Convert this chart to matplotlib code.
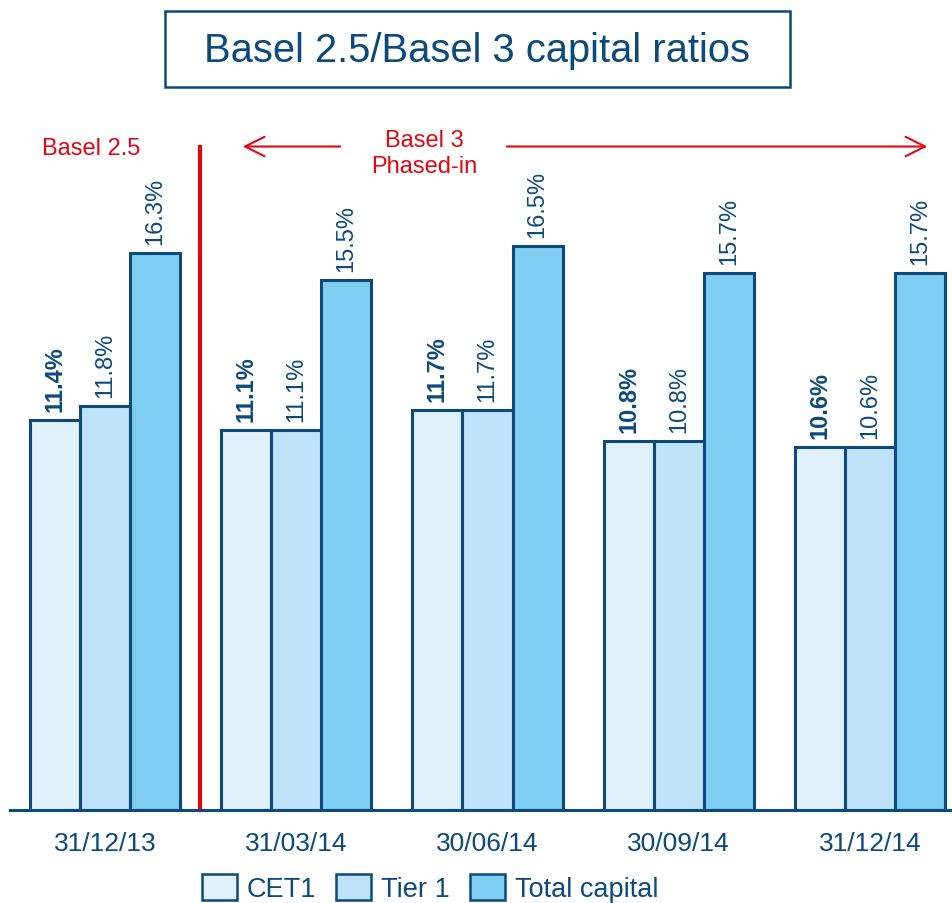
import matplotlib.pyplot as plt
import numpy as np
from matplotlib.patches import Rectangle, Patch

plt.rcParams['font.family'] = ['Liberation Sans', 'DejaVu Sans']

# data
dates = ["31/12/13", "31/03/14", "30/06/14", "30/09/14", "31/12/14"]
cet1 = [11.4, 11.1, 11.7, 10.8, 10.6]
tier1 = [11.8, 11.1, 11.7, 10.8, 10.6]
total = [16.3, 15.5, 16.5, 15.7, 15.7]
series_names = ["CET1", "Tier 1", "Total capital"]

BLUE = "#0B4A7A"
RED = "#E30613"
colors = ["#E1F1FC", "#BEE3F8", "#80CDF2"]

fig = plt.figure(figsize=(9.53, 9.04), dpi=100)
ax = fig.add_axes([10 / 953, 93 / 904, 943 / 953, 684 / 904])

x = np.arange(len(dates))
w = 0.262
for i, (vals, col) in enumerate(zip([cet1, tier1, total], colors)):
    pos = x + (i - 1) * w
    ax.bar(pos, vals, width=w, color=col, edgecolor=BLUE, linewidth=2.2)
    for p, v in zip(pos, vals):
        ax.annotate(f"{v:.1f}%", (p, v), xytext=(0, 6.5), textcoords="offset points",
                    rotation=90, ha="center", va="bottom", fontsize=17, color=BLUE,
                    fontweight="bold" if i == 0 else "normal")

ax.set_xlim(-0.497, 4.434)
ax.set_ylim(0, 20)
for s in ["top", "left", "right"]:
    ax.spines[s].set_visible(False)
ax.spines["bottom"].set_color(BLUE)
ax.spines["bottom"].set_linewidth(2.2)
ax.set_yticks([])
ax.set_xticks(x)
ax.set_xticklabels(dates, fontsize=19, color=BLUE)
ax.tick_params(axis="x", length=0, pad=15)

# Basel 2.5 / Basel 3 separator
ax.plot([0.497, 0.497], [0, 19.4], color=RED, linewidth=3, clip_on=False)
ax.text(-0.07, 19.37, "Basel 2.5", color=RED, fontsize=17, ha="center", va="center")
ax.text(1.67, 19.22, "Basel 3\nPhased-in", color=RED, fontsize=17, ha="center",
        va="center", linespacing=1.25)
arrow = dict(arrowstyle="->,head_length=0.7,head_width=0.35", color=RED, lw=1.5,
             mutation_scale=20, shrinkA=0, shrinkB=0)
ax.annotate("", xy=(0.72, 19.4), xytext=(1.23, 19.4), arrowprops=arrow, annotation_clip=False)
ax.annotate("", xy=(4.30, 19.4), xytext=(2.10, 19.4), arrowprops=arrow, annotation_clip=False)

# title box
fig.patches.append(Rectangle((165 / 953, 1 - 88 / 904), 625 / 953, 76 / 904,
                             transform=fig.transFigure, fill=False,
                             edgecolor=BLUE, linewidth=1.8))
fig.text(477 / 953, 1 - 51 / 904, "Basel 2.5/Basel 3 capital ratios", fontsize=28.7,
         color=BLUE, ha="center", va="center")

handles = [Patch(facecolor=c, edgecolor=BLUE, linewidth=1.8) for c in colors]
leg = fig.legend(handles, series_names, loc="center", bbox_to_anchor=(430 / 953, 15 / 904),
                 ncol=3, frameon=False, fontsize=19.5, handlelength=1.3, handleheight=1.1,
                 handletextpad=0.35, columnspacing=0.75)
for t in leg.get_texts():
    t.set_color(BLUE)

fig.savefig("out.png", dpi=100)
